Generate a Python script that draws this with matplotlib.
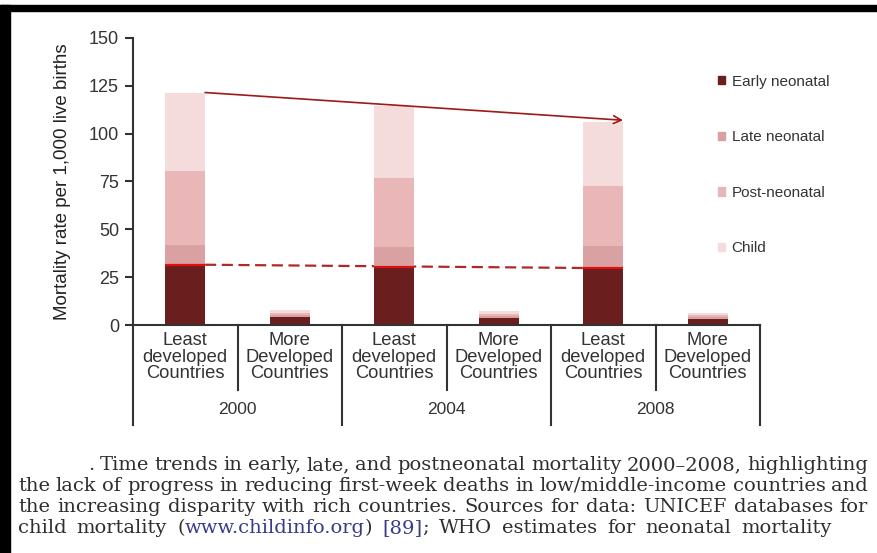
import numpy as np
import matplotlib.pyplot as plt
from matplotlib.patches import Rectangle, Patch
from matplotlib.transforms import blended_transform_factory

# values (per 1,000 live births)
groups = ['Least\ndeveloped\nCountries', 'More\nDeveloped\nCountries'] * 3
years = ['2000', '2004', '2008']
early = [31.5, 4.0, 30.5, 3.6, 29.8, 3.2]
late = [10.3, 1.0, 10.3, 1.0, 11.5, 0.9]
post = [38.7, 1.5, 36.2, 1.4, 31.4, 1.3]
child = [41.0, 1.3, 37.5, 1.2, 33.3, 1.1]
series_names = ['Early neonatal', 'Late neonatal', 'Post-neonatal', 'Child']
colors = ['#6b1e1e', '#d9a1a1', '#e9b7b7', '#f5dcdc']

caption = [
    [[('.', '#2e2e2e')], [('Time', '#2e2e2e')], [('trends', '#2e2e2e')], [('in', '#2e2e2e')],
     [('early,', '#2e2e2e')], [('late,', '#2e2e2e')], [('and', '#2e2e2e')], [('postneonatal', '#2e2e2e')],
     [('mortality', '#2e2e2e')], [('2000\u20132008,', '#2e2e2e')], [('highlighting', '#2e2e2e')]],
    [[(w, '#2e2e2e')] for w in 'the lack of progress in reducing first-week deaths in low/middle-income countries and'.split()],
    [[(w, '#2e2e2e')] for w in 'the increasing disparity with rich countries. Sources for data: UNICEF databases for'.split()],
    [[('child', '#2e2e2e')], [('mortality', '#2e2e2e')],
     [('(', '#2e2e2e'), ('www.childinfo.org', '#3a3a8c'), (')', '#2e2e2e')],
     [('[89]', '#3a3a8c'), (';', '#2e2e2e')], [('WHO', '#2e2e2e')], [('estimates', '#2e2e2e')],
     [('for', '#2e2e2e')], [('neonatal', '#2e2e2e')], [('mortality', '#2e2e2e')]],
]

plt.rcParams['font.family'] = ['Liberation Sans', 'DejaVu Sans']
W, H = 877, 553
fig = plt.figure(figsize=(W / 100, H / 100), dpi=100)
ax = fig.add_axes([133 / W, 1 - 325 / H, 627 / W, 287 / H])

x = np.arange(len(groups))
bw = 0.38
bottom = np.zeros(len(groups))
for vals, name, c in zip([early, late, post, child], series_names, colors):
    ax.bar(x, vals, bw, bottom=bottom, color=c, label=name, zorder=2)
    bottom += np.array(vals)
totals = bottom

# red marker on top of the early neonatal part of the least developed bars
ldc = x[::2]
ax.hlines([early[i] for i in ldc], ldc - bw / 2, ldc + bw / 2, color='#e01010', lw=1.6, zorder=3)

# trend lines
ax.plot([bw / 2, 4 - bw / 2], [early[0], early[4]], ls=(0, (5, 2.5)), color='#b02828', lw=1.6, zorder=1)
ax.annotate('', xy=(4 + bw / 2, totals[4] + 1), xytext=(bw / 2, totals[0]),
            arrowprops=dict(arrowstyle='->', color='#a01818', lw=1.2, shrinkA=0, shrinkB=0,
                            mutation_scale=14), zorder=4)

ax.set_xlim(-0.5, len(groups) - 0.5)
ax.set_ylim(0, 150)
ax.set_yticks(np.arange(0, 151, 25))
ax.set_xticks([])
for s in ['top', 'right']:
    ax.spines[s].set_visible(False)
for s in ['left', 'bottom']:
    ax.spines[s].set_color('#333333')
    ax.spines[s].set_linewidth(1.5)
ax.tick_params(axis='y', length=6, width=1.5, color='#333333', labelsize=13, labelcolor='#333333', pad=4)
ax.set_ylabel('Mortality rate per 1,000 live births', fontsize=13.5, color='#222222', labelpad=13)

# category and year labels under the axis
trans = blended_transform_factory(ax.transData, ax.transAxes)
for i, g in enumerate(groups):
    ax.text(i, -0.112, g, transform=trans, ha='center', va='center', fontsize=13.2,
            color='#333333', linespacing=0.97)
for i, yr in enumerate(years):
    ax.text(2 * i + 0.5, -0.296, yr, transform=trans, ha='center', va='center', fontsize=12.5, color='#333333')
for xb in np.arange(0, 7, 2) - 0.5:
    ax.plot([xb, xb], [0, -0.348], transform=trans, color='#333333', lw=1.5, clip_on=False)
for xb in np.arange(0, 6, 2) + 0.5:
    ax.plot([xb, xb], [0, -0.226], transform=trans, color='#333333', lw=1.5, clip_on=False)

handles = [Patch(color=c) for c in colors]
fig.legend(handles, series_names, loc='upper left', bbox_to_anchor=(704 / W, 1 - 61 / H),
           frameon=False, fontsize=11, handlelength=0.45, handleheight=0.45, handletextpad=0.45,
           labelspacing=2.72, labelcolor='#333333')

# caption, justified word by word
r = fig.canvas.get_renderer()
def justify(words, base, x0, x1):
    items = []
    for w in words:
        parts = []
        for txt, col in w:
            t = fig.text(0, 0, txt, fontsize=14, family='DejaVu Serif', color=col, va='baseline')
            parts.append((t, t.get_window_extent(r).width))
        items.append(parts)
    widths = [sum(p[1] for p in parts) for parts in items]
    gap = (x1 - x0 - sum(widths)) / (len(items) - 1)
    xp = x0
    for parts, wd in zip(items, widths):
        xx = xp
        for t, pw in parts:
            t.set_position((xx / W, 1 - base / H))
            xx += pw
        xp += wd + gap

justify(caption[0], 470, 88, 868)
justify(caption[1], 491, 18, 868)
justify(caption[2], 512, 18, 868)
justify(caption[3], 533, 18, 832)

# black frame pieces at left and top
fig.add_artist(Rectangle((0, 0), 10 / W, 1 - 5 / H, transform=fig.transFigure, color='black'))
fig.add_artist(Rectangle((0, 1 - 11 / H), 1, 6 / H, transform=fig.transFigure, color='black'))

fig.savefig('out.png', dpi=100)
